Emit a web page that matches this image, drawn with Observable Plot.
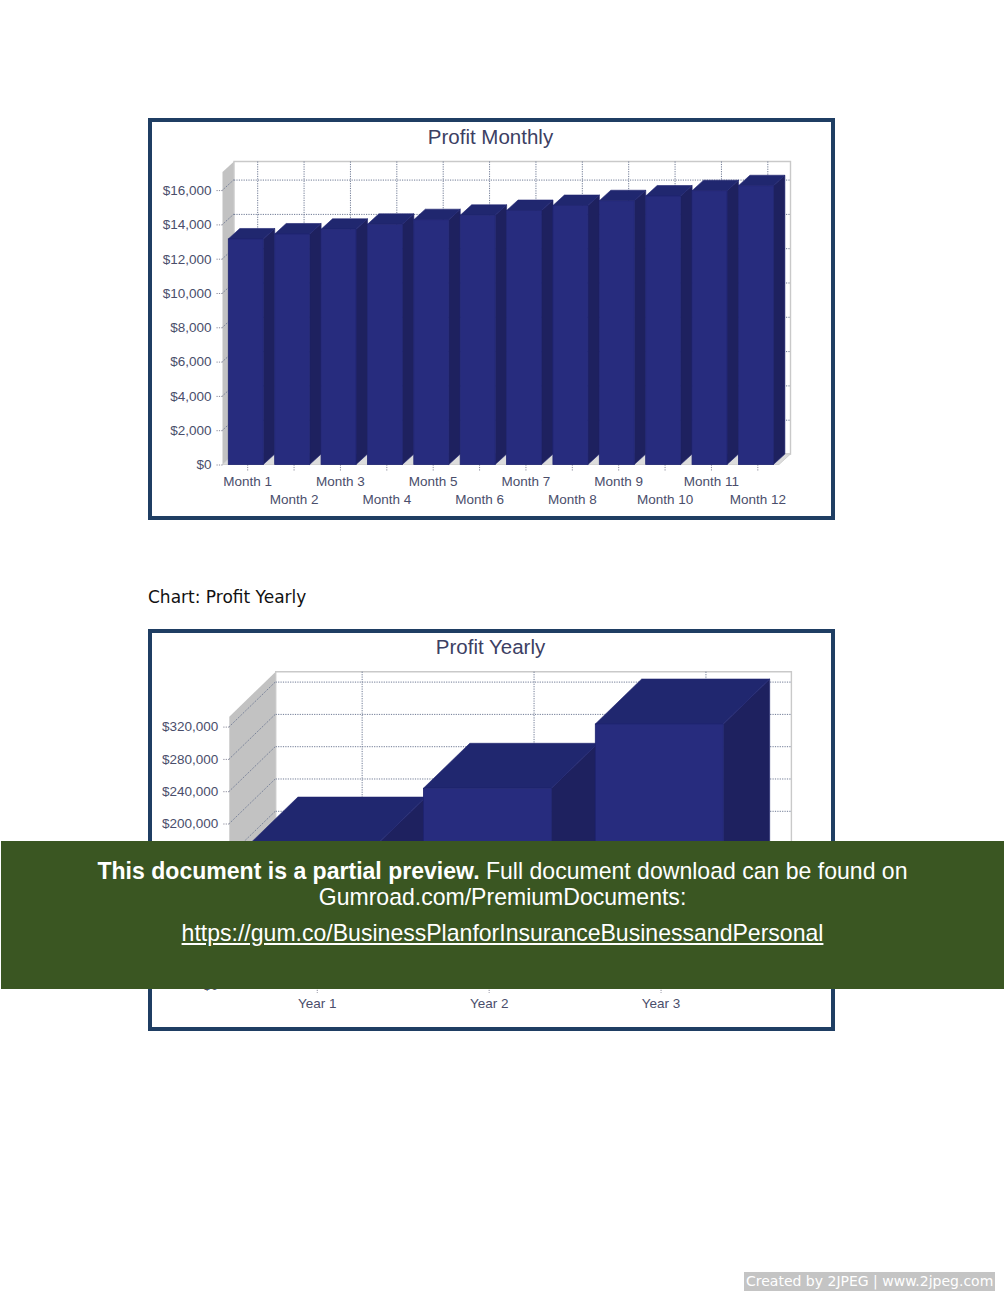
<!DOCTYPE html>
<html>
<head>
<meta charset="utf-8">
<script src="https://cdn.jsdelivr.net/npm/d3@7"></script>
<script src="https://cdn.jsdelivr.net/npm/@observablehq/plot@0.6"></script>
<style>
html,body{margin:0;padding:0;background:#fff}
#page{position:relative;width:1005px;height:1301px;overflow:hidden;font-family:"Liberation Sans",Arial,sans-serif}
.abs{position:absolute}
.frame{position:absolute;box-sizing:border-box;border:4.5px solid #1f3e63;pointer-events:none}
.title{position:absolute;text-align:center;color:#3c4063;font-size:20.5px;line-height:24px;white-space:nowrap}
svg{display:block}
#banner{position:absolute;left:1px;top:841px;width:1003px;height:148px;background:#3a5622;color:#fff;text-align:center;font-size:23.05px}
#banner div{position:absolute;left:0;right:0;white-space:nowrap;line-height:28px}
#banner a{color:#fff;text-decoration:underline}
#credit{position:absolute;left:744px;top:1272px;width:251px;height:19px;background:#c4c4c4;color:#fff;font-family:"DejaVu Sans",sans-serif;font-size:14px;line-height:19px;padding-left:2px;box-sizing:border-box;white-space:nowrap}
</style>
</head>
<body>
<div id="page"></div>
<script>
// ---- Chart data ----
const months = ["Month 1","Month 2","Month 3","Month 4","Month 5","Month 6","Month 7","Month 8","Month 9","Month 10","Month 11","Month 12"];
const monthlyProfit = [13150,13440,13715,14005,14275,14530,14810,15100,15380,15655,15965,16255];
const monthlyTicks = [0,2000,4000,6000,8000,10000,12000,14000,16000];
const monthlyTop = 17055;
const years = ["Year 1","Year 2","Year 3"];
const yearlyProfit = [177000,243600,323200];
const yearlyTicks = [0,40000,80000,120000,160000,200000,240000,280000,320000];
const yearlyLabelled = [0,200000,240000,280000,320000];
const yearlyTop = 332260;

const COLORS = {front:"#272c7e", edge:"#1f2470", side:"#1e215f", top:"#20276f",
  wall:"#c2c2c2", floor:"#dcdcdc", border:"#c9c9c9", grid:"#6f7a94", text:"#4a4e6b"};

function polys(list){
  const g = d3.create("svg:g");
  for (const p of list) {
    g.append("polygon").attr("points", p.points.map(q => q.join(",")).join(" "))
      .attr("fill", p.fill).attr("stroke", p.stroke || "none").attr("stroke-width", p.sw || 0.6);
  }
  return g.node();
}

function chart3d({cats, values, ticks, labelled, top, depthX, depthY, inset, width, height, margin, labelRows, labelDx}){
  const step = s => s.x(cats[1]) - s.x(cats[0]);
  const room = s => ({
    xa: s.x(cats[0]), xb: s.x(cats[cats.length-1]) + step(s), y0: s.y(0), yt: s.y(top)
  });
  const shell = (I, s) => {
    const {xa, xb, y0, yt} = room(s);
    return polys([
      {points:[[xa,y0],[xa,yt],[xa+depthX,yt+depthY],[xa+depthX,y0+depthY]], fill:COLORS.wall},
      {points:[[xa+depthX,yt+depthY],[xb+depthX,yt+depthY],[xb+depthX,y0+depthY],[xa+depthX,y0+depthY]], fill:"#fff", stroke:COLORS.border, sw:1.4},
      {points:[[xa,y0],[xb,y0],[xb+depthX,y0+depthY],[xa+depthX,y0+depthY]], fill:COLORS.floor, stroke:COLORS.border, sw:0.8}
    ]);
  };
  const wallGrid = (I, s) => {
    const {xa} = room(s);
    const g = d3.create("svg:g").attr("stroke", COLORS.grid).attr("stroke-dasharray","1.2 1.2").attr("fill","none");
    for (const t of ticks.slice(1)) {
      g.append("line").attr("x1", xa).attr("y1", s.y(t)).attr("x2", xa+depthX).attr("y2", s.y(t)+depthY);
    }
    return g.node();
  };
  const depthFaces = (I, s) => {
    const bw = step(s), list = [];
    cats.forEach((c, i) => {
      const l = s.x(c) + inset[0], r = s.x(c) + bw - inset[1], yv = s.y(values[i]), y0 = s.y(0);
      list.push({points:[[r,y0],[r,yv],[r+depthX,yv+depthY],[r+depthX,y0+depthY]], fill:COLORS.side, stroke:COLORS.edge});
      list.push({points:[[l,yv],[r,yv],[r+depthX,yv+depthY],[l+depthX,yv+depthY]], fill:COLORS.top, stroke:COLORS.edge});
    });
    return polys(list);
  };
  const marks = [
    shell,
    wallGrid,
    Plot.ruleY(ticks.slice(1), {dx:depthX, dy:depthY, stroke:COLORS.grid, strokeDasharray:"1.2 1.2", strokeWidth:1}),
    Plot.ruleX(cats, {dx:depthX, dy:depthY, stroke:COLORS.grid, strokeDasharray:"1.2 1.2", strokeWidth:1}),
    Plot.axisY(labelled, {anchor:"left", label:null, tickSize:7, tickPadding:4.5, tickFormat:d3.format("$,"),
      stroke:"#8a8a9a", strokeDasharray:"1.2 1.2", fill:COLORS.text, fontSize:13.5}),
    ...labelRows.map(r => Plot.axisX(r.cats, {anchor:"bottom", label:null, tickSize:r.tick, tickPadding:r.pad, dx:labelDx,
      stroke:"#8a8a9a", strokeDasharray:"1.2 1.2", fill:COLORS.text, fontSize:13.5})),
    depthFaces,
    Plot.barY(values, {x:cats, y:d=>d, insetLeft:inset[0], insetRight:inset[1], fill:COLORS.front, stroke:COLORS.edge, strokeWidth:0.8})
  ];
  return Plot.plot({
    width, height,
    marginLeft:margin[0], marginRight:margin[1], marginTop:margin[2], marginBottom:margin[3],
    style:{fontFamily:"'Liberation Sans',Arial,sans-serif", background:"transparent", overflow:"visible"},
    x:{type:"band", domain:cats, padding:0, round:false, axis:null},
    y:{domain:[0,top], axis:null},
    marks
  });
}

const page = document.getElementById("page");
function place(node, left, top){ node.style.position="absolute"; node.style.left=left+"px"; node.style.top=top+"px"; page.appendChild(node); }
function addDiv(cls, css, html){ const d=document.createElement("div"); d.className=cls; d.style.cssText=css; d.innerHTML=html; page.appendChild(d); return d; }

// Monthly chart
place(chart3d({
  cats:months, values:monthlyProfit, ticks:monthlyTicks, labelled:monthlyTicks, top:monthlyTop,
  depthX:11.5, depthY:-10.5, inset:[5.8,5.6], width:687, height:402,
  margin:[74.5,56,54,55.5], labelDx:1.5,
  labelRows:[
    {cats:months.filter((m,i)=>i%2===0), tick:6, pad:5.5},
    {cats:months.filter((m,i)=>i%2===1), tick:6, pad:23}
  ]
}), 148, 118);
addDiv("frame","left:148px;top:118px;width:687px;height:402px","");
addDiv("title","left:147px;width:687px;top:125px","Profit Monthly");

addDiv("abs",'left:148px;top:587px;font:17px/20px "DejaVu Sans",sans-serif;color:#111;white-space:nowrap',"Chart: Profit Yearly");

// Yearly chart
place(chart3d({
  cats:years, values:yearlyProfit, ticks:yearlyTicks, labelled:yearlyLabelled, top:yearlyTop,
  depthX:46.4, depthY:-45, inset:[22.2,21.7], width:687, height:401.5,
  margin:[81.3,90,87.7,45.5], labelDx:1.5,
  labelRows:[{cats:years, tick:8, pad:5}]
}), 148, 629);
addDiv("frame","left:148px;top:629px;width:687px;height:401.5px","");
addDiv("title","left:147px;width:687px;top:635px","Profit Yearly");

// Preview banner and credit
const banner = document.createElement("div");
banner.id = "banner";
banner.innerHTML = '<div style="top:16px"><b>This document is a partial preview.</b> Full document download can be found on</div>'
  + '<div style="top:42px">Gumroad.com/PremiumDocuments:</div>'
  + '<div style="top:78px"><a>https://gum.co/BusinessPlanforInsuranceBusinessandPersonal</a></div>';
page.appendChild(banner);
const credit = document.createElement("div");
credit.id = "credit";
credit.textContent = "Created by 2JPEG | www.2jpeg.com";
page.appendChild(credit);
</script>
</body>
</html>
